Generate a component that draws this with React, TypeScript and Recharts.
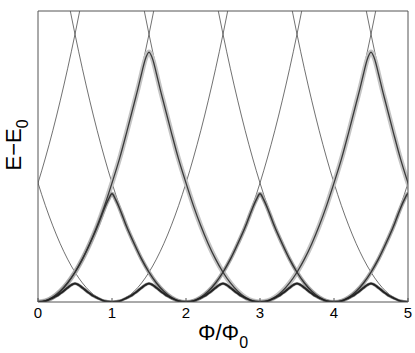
import React from 'react';
import { LineChart, Line, XAxis, YAxis } from 'recharts';

// Flux axis ticks
const fluxTicks = [0, 1, 2, 3, 4, 5];

// Thin free-particle parabolas (same shape, centred at each integer flux)
const thinCenters = [-1, 0, 1, 2, 3, 4, 5, 6];
const thinOffsets = [-1.6, -1.5, -1.4, -1.3, -1.2, -1.1, -1.0, -0.9, -0.8, -0.7, -0.6, -0.5, -0.4, -0.3, -0.2, -0.1, 0, 0.1, 0.2, 0.3, 0.4, 0.5, 0.6, 0.7, 0.8, 0.9, 1.0, 1.1, 1.2, 1.3, 1.4, 1.5, 1.6];
const thinValues = [2.56, 2.25, 1.96, 1.69, 1.44, 1.21, 1.0, 0.81, 0.64, 0.49, 0.36, 0.25, 0.16, 0.09, 0.04, 0.01, 0, 0.01, 0.04, 0.09, 0.16, 0.25, 0.36, 0.49, 0.64, 0.81, 1.0, 1.21, 1.44, 1.69, 1.96, 2.25, 2.56];

// Lowest band: small bumps peaking at half-integer flux
const bumpCenters = [0.5, 1.5, 2.5, 3.5, 4.5];
const bumpOffsets = [-0.5, -0.4, -0.3, -0.25, -0.2, -0.15, -0.1, -0.05, 0, 0.05, 0.1, 0.15, 0.2, 0.25, 0.3, 0.4, 0.5];
const bumpValues = [0, 0.008, 0.035, 0.05, 0.072, 0.095, 0.12, 0.143, 0.155, 0.143, 0.12, 0.095, 0.072, 0.05, 0.035, 0.008, 0];

// Middle branches: peaks near integer flux
const lowTentCenters = [1, 3, 5];
const lowTentOffsets = [-1, -0.9, -0.8, -0.7, -0.6, -0.5, -0.4, -0.3, -0.2, -0.15, -0.1, -0.05, 0, 0.05, 0.1, 0.15, 0.2, 0.3, 0.4, 0.5, 0.6, 0.7, 0.8, 0.9, 1];
const lowTentValues = [0, 0.01, 0.04, 0.09, 0.16, 0.25, 0.36, 0.49, 0.63, 0.71, 0.79, 0.86, 0.91, 0.86, 0.79, 0.71, 0.63, 0.49, 0.36, 0.25, 0.16, 0.09, 0.04, 0.01, 0];

// Upper branches: tall peaks at 1.5 and 4.5
const highTentCenters = [1.5, 4.5];
const highTentOffsets = [-1.5, -1.4, -1.3, -1.2, -1.1, -1, -0.9, -0.8, -0.7, -0.6, -0.5, -0.4, -0.3, -0.2, -0.15, -0.1, -0.05, 0, 0.05, 0.1, 0.15, 0.2, 0.3, 0.4, 0.5, 0.6, 0.7, 0.8, 0.9, 1, 1.1, 1.2, 1.3, 1.4, 1.5];
const highTentValues = [0, 0.01, 0.04, 0.09, 0.16, 0.25, 0.36, 0.49, 0.64, 0.81, 1.0, 1.2, 1.43, 1.67, 1.79, 1.92, 2.04, 2.1, 2.04, 1.92, 1.79, 1.67, 1.43, 1.2, 1.0, 0.81, 0.64, 0.49, 0.36, 0.25, 0.16, 0.09, 0.04, 0.01, 0];

const yMax = 2.445;

type Pt = { x: number; y: number };
const build = (center: number, offsets: number[], values: number[]): Pt[] =>
  offsets.map((o, i) => ({ x: Math.round((center + o) * 1000) / 1000, y: values[i] }));

const thinCurves = thinCenters.map((c) => build(c, thinOffsets, thinValues));
const bumpCurves = bumpCenters.map((c) => build(c, bumpOffsets, bumpValues));
const lowTents = lowTentCenters.map((c) => build(c, lowTentOffsets, lowTentValues));
const highTents = highTentCenters.map((c) => build(c, highTentOffsets, highTentValues));

const FONT = '"Liberation Sans", Arial, Helvetica, sans-serif';

const BottomTick = (props: any) => {
  const { x, y, payload } = props;
  return (
    <text x={x} y={y} textAnchor="middle" fontSize={15} fontFamily={FONT} fill="#000">
      {payload.value}
    </text>
  );
};

export default function App() {
  const W = 415;
  const H = 353;
  return (
    <div style={{ position: 'absolute', left: 0, top: 0, width: W, height: H, background: '#fff' }}>
      <LineChart width={W} height={H} margin={{ top: 10, right: 6, bottom: 0, left: 0 }}>
        <XAxis
          xAxisId={0}
          type="number"
          dataKey="x"
          domain={[0, 5]}
          ticks={fluxTicks}
          allowDataOverflow
          height={51}
          stroke="#555"
          tickSize={-4}
          tickMargin={20}
          tick={<BottomTick />}
          tickLine={{ stroke: '#555' }}
        />
        <XAxis
          xAxisId="top"
          orientation="top"
          type="number"
          dataKey="x"
          domain={[0, 5]}
          ticks={fluxTicks}
          allowDataOverflow
          height={1}
          stroke="#555"
          tickSize={-3}
          tick={false}
          tickLine={{ stroke: '#555' }}
        />
        <YAxis
          yAxisId={0}
          type="number"
          domain={[0, yMax]}
          allowDataOverflow
          width={38}
          tick={false}
          tickLine={false}
          stroke="#555"
        />
        <YAxis
          yAxisId="right"
          orientation="right"
          type="number"
          domain={[0, yMax]}
          allowDataOverflow
          width={1}
          tick={false}
          tickLine={false}
          stroke="#555"
        />
        {thinCurves.map((d, i) => (
          <Line key={'thin' + i} data={d} dataKey="y" type="monotone" stroke="#333" strokeWidth={0.7} dot={false} isAnimationActive={false} />
        ))}
        {highTents.map((d, i) => (
          <Line key={'hh' + i} data={d} dataKey="y" type="monotone" stroke="#c4c4c4" strokeWidth={5} dot={false} isAnimationActive={false} />
        ))}
        {lowTents.map((d, i) => (
          <Line key={'lh' + i} data={d} dataKey="y" type="monotone" stroke="#a8a8a8" strokeWidth={4} dot={false} isAnimationActive={false} />
        ))}
        {bumpCurves.map((d, i) => (
          <Line key={'bh' + i} data={d} dataKey="y" type="monotone" stroke="#888" strokeWidth={3} dot={false} isAnimationActive={false} />
        ))}
        {highTents.map((d, i) => (
          <Line key={'hc' + i} data={d} dataKey="y" type="monotone" stroke="#3a3a3a" strokeWidth={1.3} dot={false} isAnimationActive={false} />
        ))}
        {lowTents.map((d, i) => (
          <Line key={'lc' + i} data={d} dataKey="y" type="monotone" stroke="#333" strokeWidth={1.4} dot={false} isAnimationActive={false} />
        ))}
        {bumpCurves.map((d, i) => (
          <Line key={'bc' + i} data={d} dataKey="y" type="monotone" stroke="#222" strokeWidth={1.8} dot={false} isAnimationActive={false} />
        ))}
      </LineChart>
      <svg width={W} height={H} style={{ position: 'absolute', left: 0, top: 0, pointerEvents: 'none' }}>
        <text
          transform="translate(21,145) rotate(-90)"
          textAnchor="middle"
          fontSize={22}
          fontFamily={FONT}
          fill="#000"
        >
          E−E<tspan fontSize={16} dy={7}>0</tspan>
        </text>
        <text x={223} y={340} textAnchor="middle" fontSize={22} fontFamily={FONT} fill="#000">
          Φ/Φ<tspan fontSize={16} dy={8}>0</tspan>
        </text>
      </svg>
    </div>
  );
}
